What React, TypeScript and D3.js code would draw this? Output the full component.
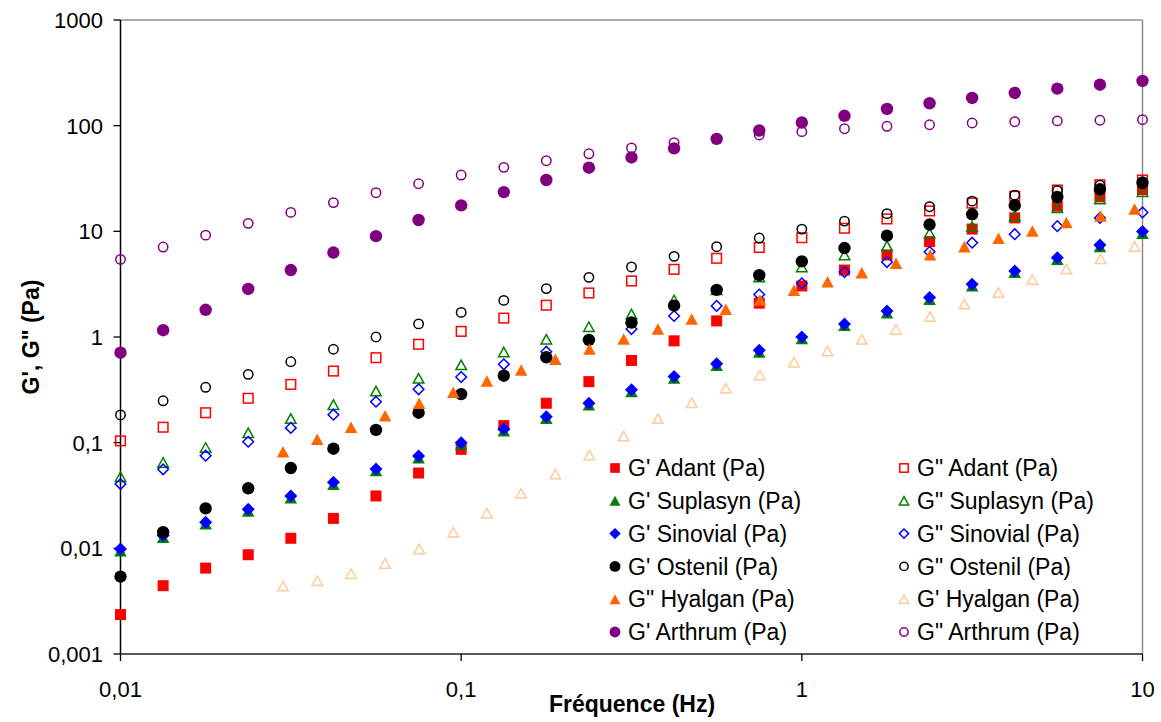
import React from "react";
import * as d3 from "d3";

// Frequencies (Hz) for most series
const FREQ = [0.01, 0.01334, 0.01778, 0.02371, 0.03162, 0.04217, 0.05623, 0.07499, 0.1, 0.1334, 0.1778, 0.2371, 0.3162, 0.4217, 0.5623, 0.7499, 1, 1.334, 1.778, 2.371, 3.162, 4.217, 5.623, 7.499, 10];
// Frequencies (Hz) for Hyalgan
const FREQ_HY = [0.03, 0.0378, 0.0475, 0.0598, 0.0753, 0.0948, 0.119, 0.15, 0.189, 0.238, 0.3, 0.378, 0.475, 0.598, 0.753, 0.948, 1.19, 1.5, 1.89, 2.38, 3.0, 3.78, 4.75, 5.98, 7.53, 9.48];

const G1_ADANT = [0.00236, 0.00443, 0.0065, 0.0087, 0.01245, 0.0192, 0.0313, 0.0516, 0.0865, 0.145, 0.236, 0.378, 0.6, 0.92, 1.42, 2.09, 3.04, 4.3, 5.97, 8.0, 10.5, 13.4, 17.3, 21.2, 24.8];
const G2_ADANT = [0.104, 0.14, 0.192, 0.263, 0.356, 0.476, 0.637, 0.853, 1.13, 1.51, 2.0, 2.61, 3.39, 4.37, 5.56, 7.03, 8.7, 10.7, 13.1, 15.6, 18.5, 21.5, 24.6, 27.6, 30.6];
const G1_SUPLASYN = [0.0095, 0.0127, 0.0171, 0.0226, 0.0301, 0.0405, 0.0545, 0.072, 0.097, 0.13, 0.17, 0.228, 0.305, 0.41, 0.54, 0.72, 0.97, 1.29, 1.7, 2.28, 3.05, 4.1, 5.45, 7.2, 9.6];
const G2_SUPLASYN = [0.0476, 0.065, 0.09, 0.124, 0.169, 0.229, 0.308, 0.406, 0.546, 0.72, 0.95, 1.25, 1.65, 2.24, 2.8, 3.7, 4.6, 5.97, 7.3, 9.6, 11.1, 14.0, 16.7, 20.2, 23.7];
const G1_SINOVIAL = [0.00986, 0.0132, 0.0177, 0.0234, 0.0313, 0.0422, 0.0564, 0.0748, 0.1, 0.135, 0.176, 0.236, 0.316, 0.422, 0.558, 0.748, 1.0, 1.33, 1.76, 2.36, 3.15, 4.22, 5.63, 7.42, 9.94];
const G2_SINOVIAL = [0.0406, 0.056, 0.0753, 0.102, 0.138, 0.184, 0.244, 0.32, 0.418, 0.552, 0.726, 0.93, 1.19, 1.58, 1.97, 2.52, 3.22, 4.12, 5.12, 6.4, 7.8, 9.4, 11.2, 13.4, 15.1];
const G1_OSTENIL = [0.0054, 0.0142, 0.0239, 0.037, 0.0575, 0.0877, 0.132, 0.192, 0.288, 0.43, 0.643, 0.94, 1.37, 1.98, 2.79, 3.85, 5.2, 6.95, 9.1, 11.6, 14.5, 17.6, 21.1, 25.0, 28.7];
const G2_OSTENIL = [0.183, 0.249, 0.334, 0.443, 0.583, 0.766, 1.0, 1.33, 1.71, 2.22, 2.87, 3.67, 4.6, 5.8, 7.15, 8.65, 10.5, 12.5, 14.7, 17.1, 19.3, 22.0, 24.3, 27.3, 29.5];
const G2_HYALGAN = [0.082, 0.108, 0.14, 0.18, 0.236, 0.3, 0.384, 0.488, 0.615, 0.77, 0.957, 1.19, 1.48, 1.83, 2.24, 2.77, 3.34, 4.06, 4.98, 6.0, 7.16, 8.6, 10.1, 12.1, 14.0, 16.3];
const G1_HYALGAN = [0.0044, 0.00494, 0.00575, 0.0072, 0.00986, 0.0142, 0.0215, 0.0332, 0.0506, 0.0764, 0.1156, 0.169, 0.239, 0.327, 0.437, 0.577, 0.738, 0.95, 1.18, 1.56, 2.05, 2.63, 3.5, 4.4, 5.5, 7.2];
const G1_ARTHRUM = [0.71, 1.16, 1.81, 2.85, 4.3, 6.3, 9.0, 12.8, 17.6, 23.5, 30.6, 40, 50, 61, 75, 90, 107, 124, 144, 163, 183, 204, 224, 244, 265];
const G2_ARTHRUM = [5.43, 7.1, 9.2, 11.9, 15.1, 18.7, 23.2, 28.2, 34.1, 40.3, 46.6, 54.2, 61.5, 69, 75, 81.6, 87.8, 93.6, 98.6, 102, 106, 109, 111, 112.5, 114];

const Y_TICKS = [0.001, 0.01, 0.1, 1, 10, 100, 1000];
const Y_TICK_LABELS = ["0,001", "0,01", "0,1", "1", "10", "100", "1000"];
const X_TICKS = [0.01, 0.1, 1, 10];
const X_TICK_LABELS = ["0,01", "0,1", "1", "10"];

type Shape = "square" | "triangle" | "diamond" | "circle";
interface Series {
  name: string;
  freq: number[];
  values: number[];
  shape: Shape;
  filled: boolean;
  color: string;
}

const SERIES: Series[] = [
  { name: "G' Adant (Pa)", freq: FREQ, values: G1_ADANT, shape: "square", filled: true, color: "#FF0000" },
  { name: "G\" Adant (Pa)", freq: FREQ, values: G2_ADANT, shape: "square", filled: false, color: "#FF0000" },
  { name: "G' Suplasyn (Pa)", freq: FREQ, values: G1_SUPLASYN, shape: "triangle", filled: true, color: "#008000" },
  { name: "G\" Suplasyn (Pa)", freq: FREQ, values: G2_SUPLASYN, shape: "triangle", filled: false, color: "#008000" },
  { name: "G' Sinovial (Pa)", freq: FREQ, values: G1_SINOVIAL, shape: "diamond", filled: true, color: "#0000FF" },
  { name: "G\" Sinovial (Pa)", freq: FREQ, values: G2_SINOVIAL, shape: "diamond", filled: false, color: "#0000FF" },
  { name: "G' Ostenil (Pa)", freq: FREQ, values: G1_OSTENIL, shape: "circle", filled: true, color: "#000000" },
  { name: "G\" Ostenil (Pa)", freq: FREQ, values: G2_OSTENIL, shape: "circle", filled: false, color: "#000000" },
  { name: "G\" Hyalgan (Pa)", freq: FREQ_HY, values: G2_HYALGAN, shape: "triangle", filled: true, color: "#FF6600" },
  { name: "G' Hyalgan (Pa)", freq: FREQ_HY, values: G1_HYALGAN, shape: "triangle", filled: false, color: "#FFCC99" },
  { name: "G' Arthrum (Pa)", freq: FREQ, values: G1_ARTHRUM, shape: "circle", filled: true, color: "#800080" },
  { name: "G\" Arthrum (Pa)", freq: FREQ, values: G2_ARTHRUM, shape: "circle", filled: false, color: "#800080" },
];

const W = 1161;
const H = 722;
const X0 = 120.5, X1 = 1142.5, Y0 = 20, Y1 = 654;
const FONT = "'Liberation Sans', Arial, sans-serif";

function Marker({ shape, filled, color, x, y, k = 1 }: { shape: Shape; filled: boolean; color: string; x: number; y: number; k?: number }) {
  const sw = 1.5;
  const fill = filled ? color : "none";
  const stroke = filled ? "none" : color;
  if (shape === "circle") {
    const r = (filled ? 6.2 : 4.7) * k;
    return <circle cx={x} cy={y} r={r} fill={fill} stroke={stroke} strokeWidth={sw} />;
  }
  if (shape === "square") {
    const s = (filled ? 11 : 9.6) * k;
    return <rect x={x - s / 2} y={y - s / 2} width={s} height={s} fill={fill} stroke={stroke} strokeWidth={sw} />;
  }
  if (shape === "triangle") {
    const w = (filled ? 12.5 : 10.5) * k;
    const h = (filled ? 11.5 : 9.5) * k;
    const p = d3.path();
    p.moveTo(x, y - h / 2);
    p.lineTo(x + w / 2, y + h / 2);
    p.lineTo(x - w / 2, y + h / 2);
    p.closePath();
    return <path d={p.toString()} fill={fill} stroke={stroke} strokeWidth={sw} strokeLinejoin="miter" />;
  }
  const s = (filled ? 6.5 : 5.3) * k;
  const p = d3.path();
  p.moveTo(x, y - s);
  p.lineTo(x + s, y);
  p.lineTo(x, y + s);
  p.lineTo(x - s, y);
  p.closePath();
  return <path d={p.toString()} fill={fill} stroke={stroke} strokeWidth={sw} />;
}

export default function App() {
  const xs = d3.scaleLog().domain([0.01, 10]).range([X0, X1]);
  const ys = d3.scaleLog().domain([0.001, 1000]).range([Y1, Y0]);

  const legCol = [615, 904];
  const legRowY = (r: number) => 468 + r * 32.8;

  return (
    <svg width={W} height={H} style={{ position: "absolute", left: 0, top: 0, background: "#fff" }} fontFamily={FONT}>
      <rect x={0} y={0} width={W} height={H} fill="#fff" />
      {/* plot frame */}
      <line x1={X0} y1={Y0} x2={X1} y2={Y0} stroke="#909090" strokeWidth={1.5} />
      <line x1={X1} y1={Y0} x2={X1} y2={Y1} stroke="#909090" strokeWidth={1.5} />
      {/* axes */}
      <line x1={X0} y1={Y0} x2={X0} y2={Y1} stroke="#000" strokeWidth={1.5} />
      <line x1={X0} y1={Y1} x2={X1} y2={Y1} stroke="#222" strokeWidth={1.5} />
      {Y_TICKS.map((t, i) => (
        <g key={"yt" + i}>
          <line x1={X0 - 7} x2={X0} y1={ys(t)} y2={ys(t)} stroke="#000" strokeWidth={1.3} />
          <text x={103} y={ys(t)} dy="0.36em" textAnchor="end" fontSize={22} fill="#000">
            {Y_TICK_LABELS[i]}
          </text>
        </g>
      ))}
      {X_TICKS.map((t, i) => (
        <g key={"xt" + i}>
          <line x1={xs(t)} x2={xs(t)} y1={Y1} y2={Y1 + 7} stroke="#000" strokeWidth={1.3} />
          <text x={xs(t)} y={697} textAnchor="middle" fontSize={22} fill="#000">
            {X_TICK_LABELS[i]}
          </text>
        </g>
      ))}
      <text x={632} y={712} textAnchor="middle" fontSize={23} fontWeight="bold" fill="#000">
        Fréquence (Hz)
      </text>
      <text transform={`translate(39,337) rotate(-90)`} textAnchor="middle" fontSize={23} fontWeight="bold" fill="#000">
        G', G" (Pa)
      </text>
      {/* data */}
      {SERIES.map((s, si) => (
        <g key={"s" + si}>
          {s.values.map((v, i) => (
            <Marker key={i} shape={s.shape} filled={s.filled} color={s.color} x={xs(s.freq[i])} y={ys(v)} />
          ))}
        </g>
      ))}
      {/* legend */}
      {SERIES.map((s, si) => {
        const col = si % 2;
        const row = Math.floor(si / 2);
        const mx = legCol[col];
        const my = legRowY(row);
        return (
          <g key={"l" + si}>
            <Marker shape={s.shape} filled={s.filled} color={s.color} x={mx} y={my} k={0.88} />
            <text x={mx + 13} y={my} dy="0.36em" fontSize={23} fill="#000">
              {s.name}
            </text>
          </g>
        );
      })}
    </svg>
  );
}
